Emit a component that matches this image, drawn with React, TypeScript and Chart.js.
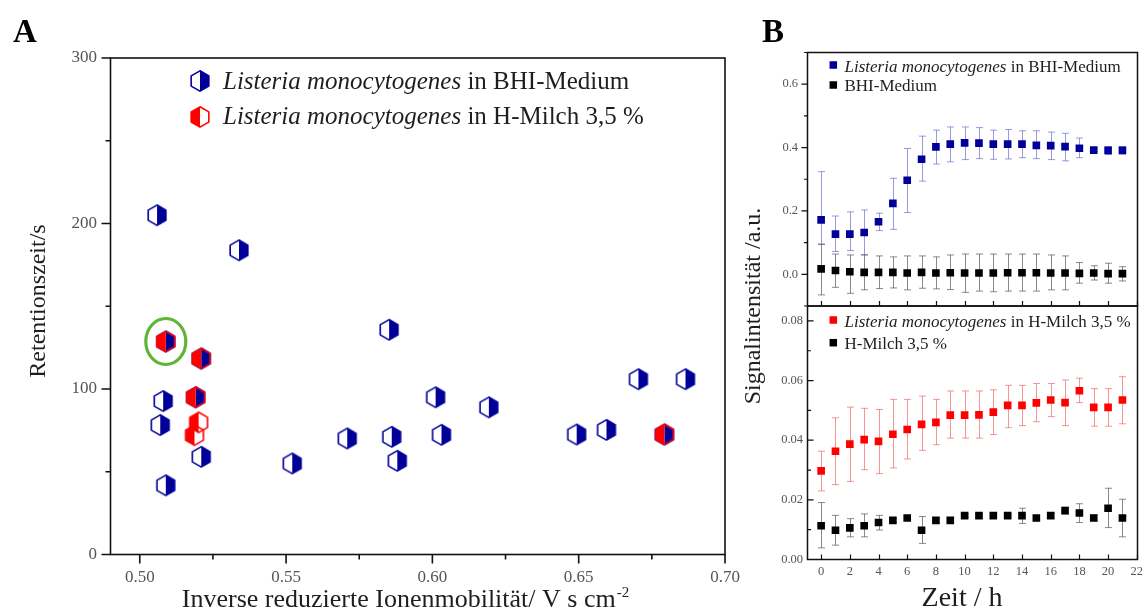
import { useEffect, useRef } from 'react';
import { Chart, registerables } from 'chart.js';

Chart.register(...registerables);

const SERIF = "'Liberation Serif', 'Times New Roman', serif";

// ---------------- Panel A : retention time vs. inverse reduced ion mobility ----------------
const bhiMobility = [0.5059, 0.5339, 0.5089, 0.521, 0.508, 0.5191, 0.507, 0.521, 0.5089, 0.5852, 0.6011, 0.6193, 0.5709, 0.5861, 0.6031, 0.5521, 0.588, 0.6704, 0.6865, 0.6493, 0.6595, 0.6793];
const bhiRetention = [205.0, 183.8, 128.7, 118.4, 92.7, 95.0, 78.2, 59.0, 41.8, 135.8, 95.0, 88.9, 70.1, 71.1, 72.3, 55.0, 56.6, 105.9, 105.9, 72.5, 75.3, 72.5];
const milkMobility = [0.5089, 0.521, 0.5191, 0.5201, 0.5187, 0.6793];
const milkRetention = [128.7, 118.4, 95.0, 79.8, 72.1, 72.5];
const highlightedMilkPoint = 0;

const mobilityTicks = [0.5, 0.55, 0.6, 0.65, 0.7];
const mobilityMinorTicks = [0.525, 0.575, 0.625, 0.675];
const retentionTicks = [0, 100, 200, 300];
const retentionMinorTicks = [50, 150, 250];

// ---------------- Panel B : signal intensity vs. time ----------------
const hours = [0, 1, 2, 3, 4, 5, 6, 7, 8, 9, 10, 11, 12, 13, 14, 15, 16, 17, 18, 19, 20, 21];

const bhiSignal = [0.172, 0.127, 0.127, 0.132, 0.166, 0.224, 0.297, 0.363, 0.402, 0.411, 0.415, 0.414, 0.411, 0.411, 0.411, 0.407, 0.406, 0.403, 0.398, 0.392, 0.391, 0.391];
const bhiSignalHigh = [0.324, 0.184, 0.197, 0.203, 0.193, 0.303, 0.397, 0.436, 0.455, 0.465, 0.465, 0.463, 0.455, 0.457, 0.453, 0.453, 0.449, 0.445, 0.43, 0.397, 0.403, 0.403];
const bhiSignalLow = [0.095, 0.072, 0.075, 0.062, 0.138, 0.142, 0.195, 0.294, 0.348, 0.355, 0.362, 0.365, 0.363, 0.364, 0.368, 0.365, 0.362, 0.358, 0.368, 0.387, 0.378, 0.38];

const bhiBlank = [0.017, 0.012, 0.008, 0.006, 0.006, 0.006, 0.004, 0.006, 0.004, 0.005, 0.004, 0.004, 0.004, 0.005, 0.005, 0.005, 0.004, 0.004, 0.003, 0.004, 0.002, 0.002];
const bhiBlankHigh = [0.095, 0.064, 0.061, 0.061, 0.058, 0.055, 0.058, 0.058, 0.055, 0.061, 0.064, 0.064, 0.064, 0.064, 0.064, 0.064, 0.061, 0.058, 0.037, 0.027, 0.035, 0.024];
const bhiBlankLow = [-0.065, -0.041, -0.06, -0.049, -0.045, -0.043, -0.049, -0.044, -0.046, -0.048, -0.057, -0.053, -0.055, -0.053, -0.053, -0.053, -0.049, -0.049, -0.028, -0.018, -0.028, -0.021];

const milkSignal = [0.0297, 0.0363, 0.0387, 0.0402, 0.0396, 0.042, 0.0436, 0.0453, 0.046, 0.0484, 0.0484, 0.0485, 0.0494, 0.0517, 0.0517, 0.0525, 0.0535, 0.0526, 0.0566, 0.051, 0.051, 0.0535];
const milkSignalHigh = [0.0363, 0.0475, 0.0511, 0.0507, 0.0503, 0.0537, 0.0537, 0.0548, 0.0537, 0.0565, 0.0565, 0.0565, 0.0569, 0.0584, 0.0584, 0.059, 0.059, 0.0602, 0.0608, 0.0573, 0.0573, 0.0613];
const milkSignalLow = [0.023, 0.0251, 0.0262, 0.0301, 0.0288, 0.0307, 0.0337, 0.0366, 0.0385, 0.0407, 0.0407, 0.0407, 0.0419, 0.0442, 0.0449, 0.0462, 0.0479, 0.0449, 0.0526, 0.0447, 0.0447, 0.0455];

const milkBlank = [0.0113, 0.0098, 0.0106, 0.0113, 0.0124, 0.0131, 0.0139, 0.0098, 0.0131, 0.0131, 0.0147, 0.0147, 0.0147, 0.0147, 0.0147, 0.0139, 0.0147, 0.0164, 0.0156, 0.0139, 0.0172, 0.0139];
const milkBlankHigh = [0.0191, 0.0148, 0.0137, 0.0153, 0.0148, 0.0138, 0.0146, 0.0144, 0.0138, 0.0138, 0.0152, 0.0152, 0.0152, 0.0152, 0.0172, 0.0146, 0.0155, 0.0175, 0.0187, 0.0149, 0.0239, 0.0202];
const milkBlankLow = [0.0039, 0.0048, 0.0076, 0.0076, 0.0099, 0.0124, 0.0133, 0.0054, 0.0124, 0.0124, 0.0142, 0.0142, 0.0142, 0.0142, 0.0121, 0.013, 0.0139, 0.0153, 0.0124, 0.013, 0.0107, 0.0076];

const hourTicks = [0, 2, 4, 6, 8, 10, 12, 14, 16, 18, 20, 22];
const topTicks = [0, 0.2, 0.4, 0.6];
const topMinorTicks = [-0.1, 0.1, 0.3, 0.5, 0.7];
const bottomTicks = [0, 0.02, 0.04, 0.06, 0.08];
const bottomMinorTicks = [0.01, 0.03, 0.05, 0.07];

const BLUE = '#000099';
const RED = '#ff0000';
const TEXT = '#1e1e1e';
const TICK_TEXT = '#555';

function makeHexMarker(color: string, filled: 'left' | 'right'): HTMLCanvasElement {
  const c = document.createElement('canvas');
  c.width = 26;
  c.height = 28;
  const g = c.getContext('2d')!;
  const cx = 13, cy = 14, r = 10.2;
  const w = r * Math.cos(Math.PI / 6);
  const s = filled === 'right' ? 1 : -1;
  g.fillStyle = color;
  g.strokeStyle = color;
  g.lineWidth = 1.6;
  g.beginPath();
  g.moveTo(cx, cy - r);
  g.lineTo(cx + s * w, cy - r / 2);
  g.lineTo(cx + s * w, cy + r / 2);
  g.lineTo(cx, cy + r);
  g.closePath();
  g.fill();
  g.beginPath();
  g.moveTo(cx, cy - r);
  g.lineTo(cx + w, cy - r / 2);
  g.lineTo(cx + w, cy + r / 2);
  g.lineTo(cx, cy + r);
  g.lineTo(cx - w, cy + r / 2);
  g.lineTo(cx - w, cy - r / 2);
  g.closePath();
  g.stroke();
  return c;
}

function drawParts(ctx: CanvasRenderingContext2D, x: number, y: number, parts: [string, boolean][], size: number, color: string) {
  ctx.fillStyle = color;
  ctx.textAlign = 'left';
  ctx.textBaseline = 'alphabetic';
  let cx = x;
  for (const [t, italic] of parts) {
    ctx.font = `${italic ? 'italic ' : ''}${size}px ${SERIF}`;
    ctx.fillText(t, cx, y);
    cx += ctx.measureText(t).width;
  }
}

const errorBarPlugin = {
  id: 'errorBars',
  beforeDatasetsDraw(chart: any) {
    const ctx: CanvasRenderingContext2D = chart.ctx;
    chart.data.datasets.forEach((ds: any, i: number) => {
      if (!ds.errHigh) return;
      const meta = chart.getDatasetMeta(i);
      const xs = chart.scales[meta.xAxisID];
      const ys = chart.scales[meta.yAxisID];
      ctx.save();
      ctx.strokeStyle = ds.errColor;
      ctx.lineWidth = 1;
      ctx.beginPath();
      ds.data.forEach((p: any, j: number) => {
        const px = Math.round(xs.getPixelForValue(p.x)) + 0.5;
        const yh = ys.getPixelForValue(ds.errHigh[j]);
        const yl = ys.getPixelForValue(ds.errLow[j]);
        ctx.moveTo(px, yh);
        ctx.lineTo(px, yl);
        ctx.moveTo(px - 3.5, yh);
        ctx.lineTo(px + 3.5, yh);
        ctx.moveTo(px - 3.5, yl);
        ctx.lineTo(px + 3.5, yl);
      });
      ctx.stroke();
      ctx.restore();
    });
  },
};

const hiddenGrid = { display: false, drawTicks: false, tickLength: 0 };

export default function App() {
  const refA = useRef<HTMLCanvasElement>(null);
  const refB = useRef<HTMLCanvasElement>(null);

  useEffect(() => {
    Chart.defaults.font.family = SERIF;
    const blueHex = makeHexMarker(BLUE, 'right');
    const redHex = makeHexMarker(RED, 'left');

    // ---------- Panel A ----------
    const panelAPlugin = {
      id: 'panelA',
      afterDraw(chart: any) {
        const ctx: CanvasRenderingContext2D = chart.ctx;
        const a = chart.chartArea;
        const x = chart.scales.x;
        const y = chart.scales.y;
        ctx.save();
        ctx.strokeStyle = '#111';
        ctx.lineWidth = 1.6;
        ctx.strokeRect(a.left, a.top, a.right - a.left, a.bottom - a.top);
        ctx.beginPath();
        mobilityTicks.forEach((v) => { const p = x.getPixelForValue(v); ctx.moveTo(p, a.bottom); ctx.lineTo(p, a.bottom + 9); });
        mobilityMinorTicks.forEach((v) => { const p = x.getPixelForValue(v); ctx.moveTo(p, a.bottom); ctx.lineTo(p, a.bottom + 5); });
        retentionTicks.forEach((v) => { const p = y.getPixelForValue(v); ctx.moveTo(a.left, p); ctx.lineTo(a.left - 9, p); });
        retentionMinorTicks.forEach((v) => { const p = y.getPixelForValue(v); ctx.moveTo(a.left, p); ctx.lineTo(a.left - 5, p); });
        ctx.stroke();

        // highlighted point
        const hx = x.getPixelForValue(milkMobility[highlightedMilkPoint]);
        const hy = y.getPixelForValue(milkRetention[highlightedMilkPoint]);
        ctx.strokeStyle = '#5fb535';
        ctx.lineWidth = 3.2;
        ctx.beginPath();
        ctx.ellipse(hx, hy, 20, 23, 0, 0, Math.PI * 2);
        ctx.stroke();

        // legend
        ctx.drawImage(blueHex, 200 - 13, 81 - 14);
        ctx.drawImage(redHex, 200 - 13, 117 - 14);
        drawParts(ctx, 223, 89, [['Listeria monocytogenes', true], [' in BHI-Medium', false]], 25, TEXT);
        drawParts(ctx, 223, 124, [['Listeria monocytogenes', true], [' in H-Milch 3,5 %', false]], 25, TEXT);

        // panel letter
        ctx.fillStyle = '#000';
        ctx.font = `bold 33px ${SERIF}`;
        ctx.textAlign = 'left';
        ctx.textBaseline = 'alphabetic';
        ctx.fillText('A', 13, 42);

        // y title
        ctx.save();
        ctx.translate(45, 301);
        ctx.rotate(-Math.PI / 2);
        ctx.font = `24px ${SERIF}`;
        ctx.fillStyle = TEXT;
        ctx.textAlign = 'center';
        ctx.fillText('Retentionszeit/s', 0, 0);
        ctx.restore();

        // x title with superscript
        ctx.font = `26px ${SERIF}`;
        const main = 'Inverse reduzierte Ionenmobilität/ V s cm';
        const wMain = ctx.measureText(main).width;
        ctx.font = `15px ${SERIF}`;
        const sup = '-2';
        const wSup = ctx.measureText(sup).width;
        const start = 405 - (wMain + wSup) / 2;
        ctx.fillStyle = TEXT;
        ctx.font = `26px ${SERIF}`;
        ctx.fillText(main, start, 607);
        ctx.font = `15px ${SERIF}`;
        ctx.fillText(sup, start + wMain + 1, 597);
        ctx.restore();
      },
    };

    const chartA = new Chart(refA.current!, {
      type: 'scatter',
      data: {
        datasets: [
          {
            label: 'Listeria monocytogenes in H-Milch 3,5 %',
            data: milkMobility.map((v, i) => ({ x: v, y: milkRetention[i] })),
            pointStyle: redHex as any,
            pointRadius: 10,
          },
          {
            label: 'Listeria monocytogenes in BHI-Medium',
            data: bhiMobility.map((v, i) => ({ x: v, y: bhiRetention[i] })),
            pointStyle: blueHex as any,
            pointRadius: 10,
          },
        ],
      },
      options: {
        responsive: false,
        animation: false,
        devicePixelRatio: 1,
        layout: { padding: { left: 0, top: 58, right: 35, bottom: 0 } },
        plugins: { legend: { display: false }, tooltip: { enabled: false } },
        scales: {
          x: {
            type: 'linear',
            min: 0.49,
            max: 0.7,
            grid: hiddenGrid,
            border: { display: false },
            afterBuildTicks: (s: any) => { s.ticks = mobilityTicks.map((v) => ({ value: v })); },
            afterFit: (s: any) => { s.height = 56.5; s.paddingLeft = 0; s.paddingRight = 0; },
            ticks: {
              autoSkip: false,
              maxRotation: 0,
              padding: 13,
              color: TICK_TEXT,
              font: { size: 17, family: SERIF },
              callback: (v: any) => Number(v).toFixed(2),
            },
          },
          y: {
            type: 'linear',
            min: 0,
            max: 300,
            grid: hiddenGrid,
            border: { display: false },
            afterBuildTicks: (s: any) => { s.ticks = retentionTicks.map((v) => ({ value: v })); },
            afterFit: (s: any) => { s.width = 110.5; s.paddingTop = 0; s.paddingBottom = 0; },
            ticks: {
              padding: 13.5,
              color: TICK_TEXT,
              font: { size: 17, family: SERIF },
              callback: (v: any) => String(v),
            },
          },
        },
      },
      plugins: [panelAPlugin],
    });

    // ---------- Panel B ----------
    const panelBPlugin = {
      id: 'panelB',
      afterDraw(chart: any) {
        const ctx: CanvasRenderingContext2D = chart.ctx;
        const a = chart.chartArea;
        const x = chart.scales.x;
        const yt = chart.scales.yTop;
        const yb = chart.scales.yBot;
        ctx.save();
        ctx.strokeStyle = '#111';
        ctx.lineWidth = 1.5;
        ctx.strokeRect(a.left, yt.top, a.right - a.left, yt.bottom - yt.top);
        ctx.strokeRect(a.left, yb.top, a.right - a.left, yb.bottom - yb.top);
        ctx.lineWidth = 1.2;
        ctx.beginPath();
        hourTicks.forEach((v) => {
          const p = Math.round(x.getPixelForValue(v)) + 0.5;
          ctx.moveTo(p, yb.bottom); ctx.lineTo(p, yb.bottom - 5);
          ctx.moveTo(p, yt.bottom); ctx.lineTo(p, yt.bottom - 5);
        });
        topTicks.forEach((v) => { const p = yt.getPixelForValue(v); ctx.moveTo(a.left, p); ctx.lineTo(a.left - 6, p); });
        topMinorTicks.forEach((v) => { const p = yt.getPixelForValue(v); ctx.moveTo(a.left, p); ctx.lineTo(a.left - 3.5, p); });
        bottomTicks.forEach((v) => { const p = yb.getPixelForValue(v); ctx.moveTo(a.left, p); ctx.lineTo(a.left + 6, p); });
        bottomMinorTicks.forEach((v) => { const p = yb.getPixelForValue(v); ctx.moveTo(a.left, p); ctx.lineTo(a.left + 3.5, p); });
        ctx.stroke();

        // legends
        const off = 735;
        const sq = (cx: number, cy: number, c: string) => { ctx.fillStyle = c; ctx.fillRect(cx - off - 3.75, cy - 3.75, 7.5, 7.5); };
        sq(833.3, 65, BLUE);
        sq(833.3, 85, '#000');
        sq(833.3, 320, RED);
        sq(833.3, 342.7, '#000');
        drawParts(ctx, 844.5 - off, 71.7, [['Listeria monocytogenes', true], [' in BHI-Medium', false]], 17, TEXT);
        drawParts(ctx, 844.5 - off, 91, [['BHI-Medium', false]], 17, TEXT);
        drawParts(ctx, 844.5 - off, 326.5, [['Listeria monocytogenes', true], [' in H-Milch 3,5 %', false]], 17, TEXT);
        drawParts(ctx, 844.5 - off, 348.5, [['H-Milch 3,5 %', false]], 17, TEXT);

        // panel letter
        ctx.fillStyle = '#000';
        ctx.font = `bold 33px ${SERIF}`;
        ctx.textAlign = 'left';
        ctx.textBaseline = 'alphabetic';
        ctx.fillText('B', 762 - off, 42);

        // shared y title
        ctx.save();
        ctx.translate(760 - off, 306);
        ctx.rotate(-Math.PI / 2);
        ctx.font = `24px ${SERIF}`;
        ctx.fillStyle = TEXT;
        ctx.textAlign = 'center';
        ctx.fillText('Signalintensität /a.u.', 0, 0);
        ctx.restore();

        // x title
        ctx.font = `28px ${SERIF}`;
        ctx.fillStyle = TEXT;
        ctx.textAlign = 'center';
        ctx.fillText('Zeit / h', 962 - off, 606);
        ctx.restore();
      },
    };

    const series = (
      xs: number[], ys: number[], hi: number[], lo: number[], color: string, errColor: string, axis: string, label: string,
    ) => ({
      label,
      data: xs.map((v, i) => ({ x: v, y: ys[i] })),
      yAxisID: axis,
      pointStyle: 'rect',
      pointRadius: 5.4,
      pointBorderWidth: 0,
      backgroundColor: color,
      borderColor: color,
      errHigh: hi,
      errLow: lo,
      errColor,
    });

    const chartB = new Chart(refB.current!, {
      type: 'scatter',
      data: {
        datasets: [
          series(hours, bhiSignal, bhiSignalHigh, bhiSignalLow, BLUE, 'rgba(70,70,200,0.55)', 'yTop', 'Listeria monocytogenes in BHI-Medium'),
          series(hours, bhiBlank, bhiBlankHigh, bhiBlankLow, '#000', 'rgba(60,60,60,0.6)', 'yTop', 'BHI-Medium'),
          series(hours, milkSignal, milkSignalHigh, milkSignalLow, RED, 'rgba(240,60,60,0.55)', 'yBot', 'Listeria monocytogenes in H-Milch 3,5 %'),
          series(hours, milkBlank, milkBlankHigh, milkBlankLow, '#000', 'rgba(60,60,60,0.6)', 'yBot', 'H-Milch 3,5 %'),
        ] as any,
      },
      options: {
        responsive: false,
        animation: false,
        devicePixelRatio: 1,
        layout: { padding: { left: 0, top: 52.5, right: 10.5, bottom: 0 } },
        plugins: { legend: { display: false }, tooltip: { enabled: false } },
        scales: {
          x: {
            type: 'linear',
            min: -0.95,
            max: 22.05,
            grid: hiddenGrid,
            border: { display: false },
            afterBuildTicks: (s: any) => { s.ticks = hourTicks.map((v) => ({ value: v })); },
            afterFit: (s: any) => { s.height = 51.5; s.paddingLeft = 0; s.paddingRight = 0; },
            ticks: {
              autoSkip: false,
              maxRotation: 0,
              padding: 5,
              color: TICK_TEXT,
              font: { size: 12.5, family: SERIF },
              callback: (v: any) => String(v),
            },
          },
          yBot: {
            type: 'linear',
            position: 'left',
            stack: 'b',
            stackWeight: 1,
            weight: 0,
            min: 0,
            max: 0.085,
            grid: hiddenGrid,
            border: { display: false },
            afterBuildTicks: (s: any) => { s.ticks = bottomTicks.map((v) => ({ value: v })); },
            afterFit: (s: any) => { s.width = 72.5; s.paddingTop = 0; s.paddingBottom = 0; },
            ticks: {
              padding: 4.5,
              color: TICK_TEXT,
              font: { size: 12.5, family: SERIF },
              callback: (v: any) => Number(v).toFixed(2),
            },
          },
          yTop: {
            type: 'linear',
            position: 'left',
            stack: 'b',
            stackWeight: 1,
            weight: 1,
            min: -0.1,
            max: 0.7,
            grid: hiddenGrid,
            border: { display: false },
            afterBuildTicks: (s: any) => { s.ticks = topTicks.map((v) => ({ value: v })); },
            afterFit: (s: any) => { s.width = 72.5; s.paddingTop = 0; s.paddingBottom = 0; },
            ticks: {
              padding: 9.5,
              color: TICK_TEXT,
              font: { size: 12.5, family: SERIF },
              callback: (v: any) => Number(v).toFixed(1),
            },
          },
        } as any,
      },
      plugins: [errorBarPlugin, panelBPlugin],
    });

    return () => {
      chartA.destroy();
      chartB.destroy();
    };
  }, []);

  return (
    <div style={{ position: 'absolute', left: 0, top: 0, width: 1148, height: 611, background: '#fff' }}>
      <canvas ref={refA} width={760} height={611} style={{ position: 'absolute', left: 0, top: 0 }} />
      <canvas ref={refB} width={413} height={611} style={{ position: 'absolute', left: 735, top: 0 }} />
    </div>
  );
}
